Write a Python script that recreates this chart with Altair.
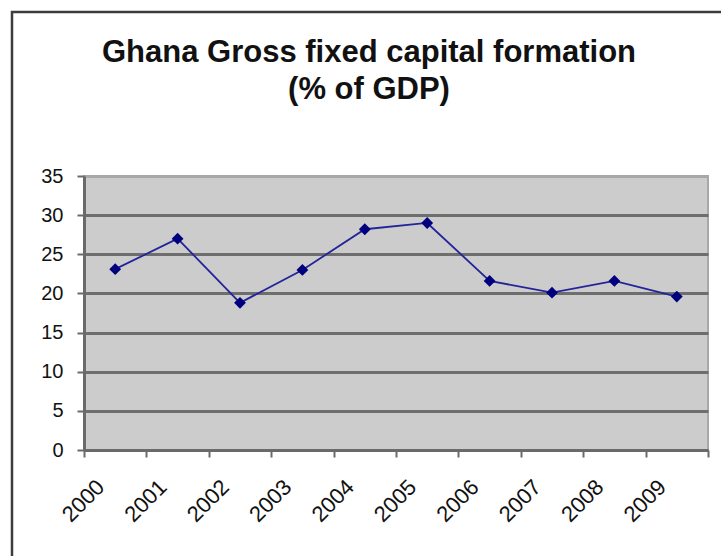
import altair as alt
import pandas as pd

years = ["2000", "2001", "2002", "2003", "2004", "2005", "2006", "2007", "2008", "2009"]
gfcf = [23.1, 27.0, 18.8, 23.0, 28.2, 29.0, 21.6, 20.1, 21.6, 19.6]
y_ticks = [0, 5, 10, 15, 20, 25, 30, 35]
title_lines = ["Ghana Gross fixed capital formation", "(% of GDP)"]

df = pd.DataFrame({"year": years, "value": gfcf})
FONT = "Liberation Sans"

x_enc = alt.X(
    "year:N",
    sort=None,
    title=None,
    scale=alt.Scale(type="band", paddingInner=0, paddingOuter=0),
    axis=alt.Axis(
        tickBand="extent",
        labelAngle=-45,
        labelAlign="right",
        labelBaseline="top",
        labelOffset=-22,
        labelPadding=19,
        labelFontSize=22,
        labelFont=FONT,
        labelColor="#111111",
        tickSize=7,
        tickWidth=2,
        tickColor="#6a6a6a",
        domainColor="#6a6a6a",
        domainWidth=3,
        grid=False,
    ),
)
y_enc = alt.Y(
    "value:Q",
    title=None,
    scale=alt.Scale(domain=[0, 35], nice=False, zero=True),
    axis=alt.Axis(
        values=y_ticks,
        labelFontSize=20,
        labelFont=FONT,
        labelColor="#111111",
        labelPadding=14,
        tickSize=7,
        tickWidth=2,
        tickColor="#6a6a6a",
        domainColor="#6a6a6a",
        domainWidth=3,
        grid=True,
        gridColor=alt.condition("datum.value === 35", alt.value("#a8a8a8"), alt.value("#6e6e6e")),
        gridWidth=3,
    ),
)

line = alt.Chart(df).mark_line(color="#24249a", strokeWidth=1.8).encode(x=x_enc, y=y_enc)
pts = alt.Chart(df).mark_point(
    shape="diamond", filled=True, color="#00007f", size=140, opacity=1
).encode(x=x_enc, y=y_enc)

frame_df = pd.DataFrame({"k": [0]})
frame = alt.Chart(frame_df).mark_rect(
    fill=None, stroke="#3c3c3c", strokeWidth=2.5
).encode(
    x=alt.value(-72), x2=alt.value(660), y=alt.value(-164), y2=alt.value(420)
)

t1 = alt.Chart(frame_df).mark_text(
    font=FONT, fontSize=31, fontWeight="bold", color="#111111", align="center", baseline="alphabetic"
).encode(x=alt.value(285), y=alt.value(-114), text=alt.value(title_lines[0]))
t2 = alt.Chart(frame_df).mark_text(
    font=FONT, fontSize=31, fontWeight="bold", color="#111111", align="center", baseline="alphabetic"
).encode(x=alt.value(285), y=alt.value(-77), text=alt.value(title_lines[1]))

chart = alt.layer(line, pts, frame, t1, t2).properties(
    width=624,
    height=274,
    autosize=alt.AutoSizeParams(type="none"),
    padding={"left": 84, "top": 176, "right": 13, "bottom": 106},
    background="white",
).configure_view(
    fill="#cccccc", stroke="#a8a8a8", strokeWidth=2
)

chart.save("out.html", embed_options={"renderer": "svg", "actions": False})
